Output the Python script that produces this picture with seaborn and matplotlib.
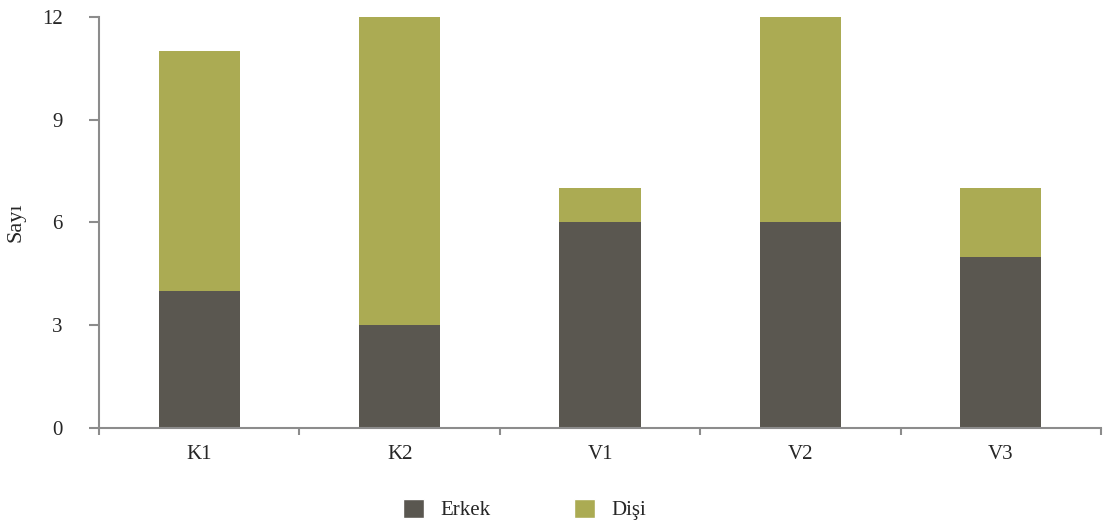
import numpy as np
import pandas as pd
import matplotlib
matplotlib.use("Agg")
import matplotlib.pyplot as plt
from matplotlib.patches import Patch
import seaborn as sns

groups = ["K1", "K2", "V1", "V2", "V3"]
erkek = [4, 3, 6, 6, 5]
disi = [7, 9, 1, 6, 2]

DARK = "#5A5750"
OLIVE = "#ABAB53"
GREY = "#8C8C8C"

sns.set_style("white")
plt.rcParams['font.family'] = ['Liberation Serif', 'DejaVu Serif']

df = pd.DataFrame({"grup": groups, "Erkek": erkek, "Dişi": disi})
df["toplam"] = df["Erkek"] + df["Dişi"]

fig = plt.figure(figsize=(11.04, 5.27), dpi=100)
ax = fig.add_axes([0.0897, 0.1879, 0.9076, 0.7798])

# stacked: total in olive, then male part drawn over it
sns.barplot(data=df, x="grup", y="toplam", color=OLIVE, width=0.405,
            saturation=1, ax=ax)
sns.barplot(data=df, x="grup", y="Erkek", color=DARK, width=0.405,
            saturation=1, ax=ax)
for p in ax.patches:
    p.set_edgecolor("none")

ax.set_xlim(-0.5, len(groups) - 0.5)
ax.set_ylim(0, 12)
ax.set_yticks([0, 3, 6, 9, 12])
ax.set_xlabel("")
ax.set_ylabel("Sayı", fontsize=16, labelpad=12)

ax.set_xticks(np.arange(-0.5, len(groups)), minor=True)
ax.tick_params(axis="x", which="both", bottom=True)
ax.tick_params(axis="x", which="major", length=0, pad=12, labelsize=15)
ax.tick_params(axis="x", which="minor", length=5, width=1.5, color=GREY,
               direction="out")
ax.tick_params(axis="y", left=True, length=7, width=1.5, color=GREY,
               direction="out", pad=19, labelsize=15)

for s in ["top", "right"]:
    ax.spines[s].set_visible(False)
for s in ["left", "bottom"]:
    ax.spines[s].set_color(GREY)
    ax.spines[s].set_linewidth(1.5)

handles = [Patch(facecolor=DARK, label="Erkek"), Patch(facecolor=OLIVE, label="Dişi")]
fig.legend(handles=handles, loc="center", bbox_to_anchor=(0.4755, 0.033),
           ncol=2, frameon=False, fontsize=15, handlelength=1.0,
           handleheight=1.0, handletextpad=0.8, columnspacing=4.0)

fig.savefig("out.png", dpi=100)
